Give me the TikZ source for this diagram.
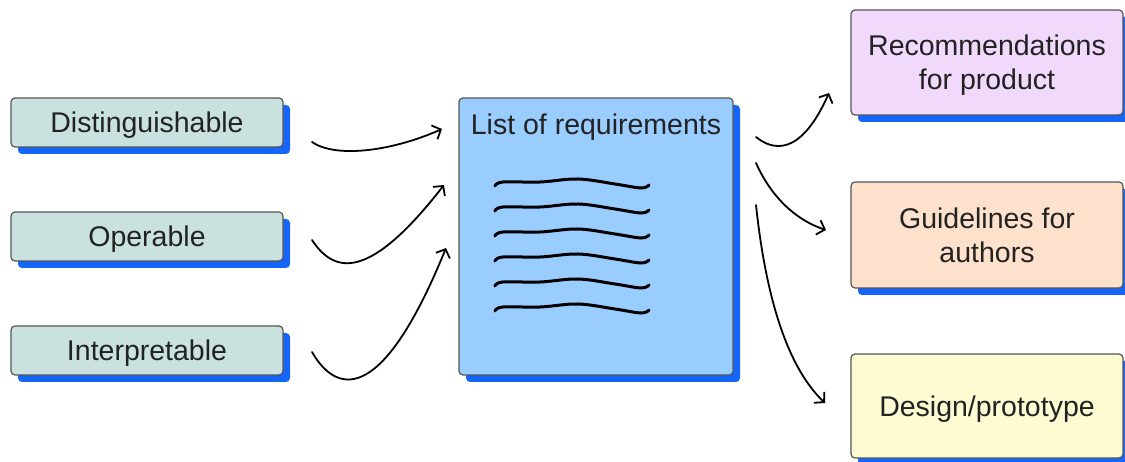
\documentclass[tikz,border=0pt]{standalone}
\usepackage{fontspec}
\setmainfont{Liberation Sans}
\usetikzlibrary{arrows.meta,shadows}
\definecolor{shadowblue}{HTML}{1466FA}
\definecolor{bordergray}{HTML}{555555}
\definecolor{txt}{HTML}{222222}
\definecolor{tealfill}{HTML}{C9E2DF}
\definecolor{bluefill}{HTML}{99CCFF}
\definecolor{purplefill}{HTML}{F0D9FA}
\definecolor{peachfill}{HTML}{FDE1CC}
\definecolor{yellowfill}{HTML}{FCFBD2}
\begin{document}
\begin{tikzpicture}[x=1pt,y=-1pt,
  box/.style={draw=bordergray, line width=1.2pt, rounded corners=4pt, inner sep=0pt,
    minimum width=272pt, text=txt, align=center, text depth=0pt,
    font=\fontsize{28.5}{34}\selectfont,
    drop shadow={shadow xshift=7pt, shadow yshift=-7pt, fill=shadowblue, opacity=1, shadow scale=1}},
  lbox/.style={box, fill=tealfill, minimum height=49pt},
  rbox/.style={box, minimum height=105pt},
  conn/.style={draw=black, line width=1.8pt, line cap=round,
    -{Straight Barb[length=7pt,width=15pt]}},
  wave/.style={draw=black, line width=3pt, line cap=round}]
\useasboundingbox (0,0) rectangle (1125,462);

% left boxes
\node[lbox] (d) at (147,122.5) {Distinguishable};
\node[lbox] (o) at (147,236.5) {Operable};
\node[lbox] (i) at (147,350.5) {Interpretable};

% central box
\node[box, fill=bluefill, minimum width=274pt, minimum height=277pt] (req) at (596,236.5) {};
\node[text=txt, font=\fontsize{28.5}{34}\selectfont, inner sep=0pt, text depth=0pt] (reqt) at (596,124) {List of requirements};
\foreach \k in {0,...,5}{
  \draw[wave, shift={(0,\k*25)}] plot[smooth, tension=0.6] coordinates
    {(495,186) (503,182) (540,182) (578,179) (615,184) (641,188) (649,185)};
}

% right boxes
\node[rbox, fill=purplefill] (rec) at (987,62.5) {Recommendations\\for product};
\node[rbox, fill=peachfill, minimum height=106pt] (gui) at (987,235) {Guidelines for\\authors};
\node[rbox, fill=yellowfill, minimum height=104pt] (des) at (987,406) {Design/prototype};

% connector end points
\coordinate (a1s) at (312,142);
\coordinate (a1e) at (442,129);
\coordinate (a2s) at (312,240);
\coordinate (a2e) at (444,185);
\coordinate (a3s) at (312,352);
\coordinate (a3e) at (446,248);
\coordinate (b1s) at (756,137);
\coordinate (b1e) at (829,93);
\coordinate (b2s) at (756,163);
\coordinate (b2e) at (826,230);
\coordinate (b3s) at (756,205);
\coordinate (b3e) at (825,403);

\draw[conn] (a1s) .. controls (335,158) and (390,152) .. (a1e);
\draw[conn] (a2s) .. controls (335,275) and (370,280) .. (a2e);
\draw[conn] (a3s) .. controls (335,392) and (380,410) .. (a3e);
\draw[conn] (b1s) .. controls (772,150) and (800,158) .. (b1e);
\draw[conn] (b2s) .. controls (768,190) and (790,218) .. (b2e);
\draw[conn] (b3s) .. controls (765,290) and (785,365) .. (b3e);
\end{tikzpicture}
\end{document}
